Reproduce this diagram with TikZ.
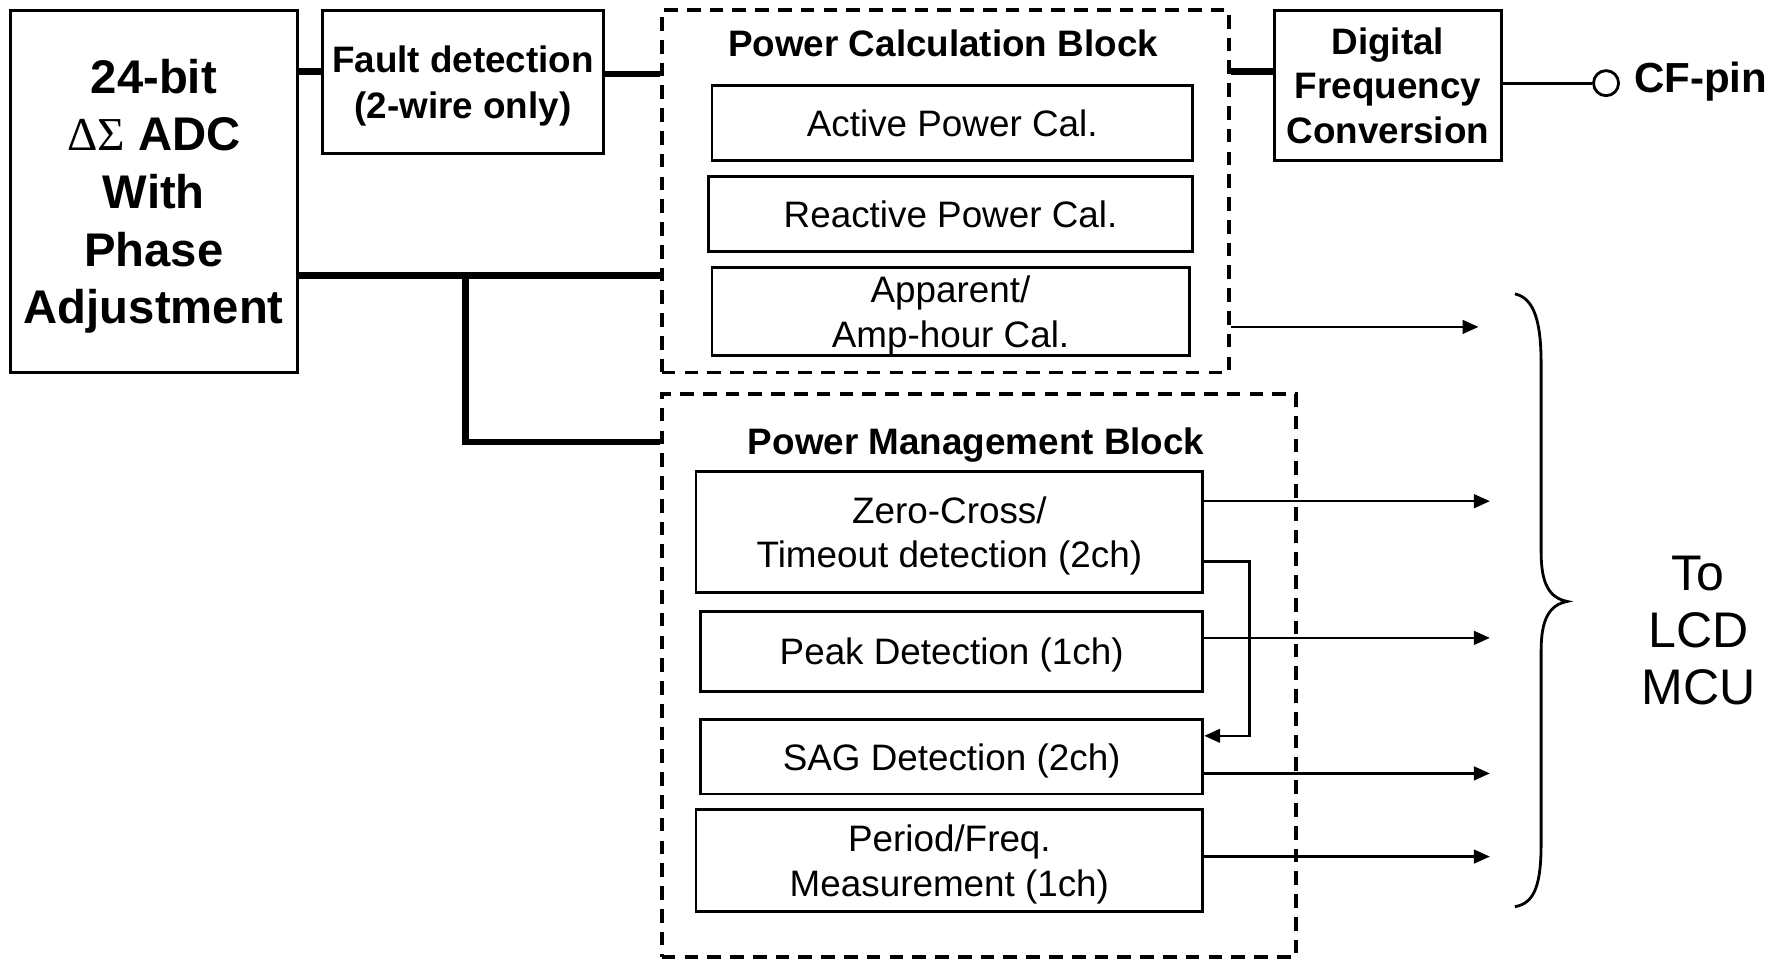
\documentclass[tikz,border=0pt]{standalone}
\usepackage{fontspec}
\setmainfont{Liberation Sans}
\newfontfamily\greekserif{Liberation Serif}
\usetikzlibrary{arrows.meta}
\tikzstyle{unit}=[draw, line width=0.7pt, inner sep=0pt, text depth=0pt, align=center, font=\fontsize{9.2}{11.1}\selectfont]
\tikzstyle{boldunit}=[unit, font=\fontsize{9.2}{11.1}\selectfont\bfseries]
\tikzstyle{blockframe}=[draw, line width=0.9pt, dash pattern=on 0.12cm off 0.08cm, inner sep=0pt]
\tikzstyle{blocktitle}=[inner sep=0pt, text depth=0pt, font=\fontsize{9.2}{11.1}\selectfont\bfseries]
\tikzstyle{bus}=[line width=1.7pt]
\tikzstyle{sig}=[line width=0.6pt, -{Triangle[length=0.14cm, width=0.12cm]}]
\newcommand{\unit}{\node[unit]}
\newcommand{\boldunit}{\node[boldunit]}

\begin{document}
\begin{tikzpicture}[x=1cm, y=-1cm]
\useasboundingbox (0,0) rectangle (15.68,8.42);

% front end
\boldunit[minimum width=2.52cm, minimum height=3.18cm, font=\fontsize{11.8}{14.4}\selectfont\bfseries] (adc) at (1.35,1.68) {24-bit\\{\greekserif\mdseries ΔΣ} ADC\\With\\Phase\\Adjustment};
\boldunit[minimum width=2.47cm, minimum height=1.26cm, font=\fontsize{9.2}{11.4}\selectfont\bfseries] (fault) at (4.065,0.72) {Fault detection\\(2-wire only)};

% power calculation
\node[blockframe, minimum width=4.98cm, minimum height=3.18cm] (pcb) at (8.30,1.68) {};
\node[blocktitle] (pcbtitle) at (8.28,0.38) {Power Calculation Block};
\unit[minimum width=4.22cm, minimum height=0.66cm] (active) at (8.36,1.08) {Active Power Cal.};
\unit[minimum width=4.25cm, minimum height=0.66cm] (reactive) at (8.345,1.88) {Reactive Power Cal.};
\unit[minimum width=4.19cm, minimum height=0.77cm] (apparent) at (8.345,2.735) {Apparent/\\Amp-hour Cal.};

\boldunit[minimum width=1.99cm, minimum height=1.32cm] (dfc) at (12.185,0.75) {Digital\\Frequency\\Conversion};
\node[circle, draw, line width=0.7pt, inner sep=0pt, minimum size=0.22cm] (cf) at (14.10,0.73) {};
\node[anchor=west, inner sep=0pt, font=\fontsize{10.5}{12}\selectfont\bfseries] (cfpin) at (14.34,0.72) {CF-pin};

% power management
\node[blockframe, minimum width=5.57cm, minimum height=4.94cm] (pmb) at (8.595,5.93) {};
\node[blocktitle] (pmbtitle) at (8.57,3.87) {Power Management Block};
\unit[minimum width=4.45cm, minimum height=1.06cm] (zc) at (8.335,4.67) {Zero-Cross/\\Timeout detection (2ch)};
\unit[minimum width=4.41cm, minimum height=0.70cm] (peak) at (8.355,5.72) {Peak Detection (1ch)};
\unit[minimum width=4.41cm, minimum height=0.65cm] (sag) at (8.355,6.645) {SAG Detection (2ch)};
\unit[minimum width=4.45cm, minimum height=0.89cm] (period) at (8.335,7.555) {Period/Freq.\\Measurement (1ch)};

\node[align=center, inner sep=0pt, font=\fontsize{12.5}{14.2}\selectfont] (lcd) at (14.91,5.535) {To\\LCD\\MCU};

% wiring
\coordinate (split) at (4.09,2.42);
\coordinate (out0) at (12.98,2.87);
\coordinate (out1) at (13.08,4.40);
\coordinate (out2) at (13.08,5.60);
\coordinate (out3) at (13.08,6.79);
\coordinate (out4) at (13.08,7.52);
\coordinate (loopa) at (10.97,4.93);
\coordinate (loopb) at (10.97,6.46);

\draw[bus] (adc.east |- 0,0.63) -- (fault.west |- 0,0.63);
\draw[bus] (fault.east |- 0,0.65) -- (pcb.west |- 0,0.65);
\draw[bus] (pcb.east |- 0,0.63) -- (dfc.west |- 0,0.63);
\draw[line width=0.7pt] (dfc.east |- cf) -- (cf);
\draw[bus] (adc.east |- split) -- (pcb.west |- split);
\draw[bus] (split) |- (pmb.west |- 0,3.88);
\draw[sig] (pcb.east |- out0) -- (out0);
\foreach \b/\o in {zc/out1, peak/out2, sag/out3, period/out4}
  \draw[sig] (\o -| \b.east) -- (\o);
\draw[sig] (zc.east |- loopa) -- (loopa) -- (loopb) -- (sag.east |- loopb);

% brace
\draw[line width=0.7pt] (13.30,2.58) .. controls (13.48,2.62) and (13.53,2.85) .. (13.53,3.20)
  -- (13.53,4.85) .. controls (13.53,5.12) and (13.60,5.25) .. (13.76,5.28)
  .. controls (13.60,5.31) and (13.53,5.44) .. (13.53,5.71)
  -- (13.53,7.40) .. controls (13.53,7.75) and (13.48,7.93) .. (13.30,7.96);
\end{tikzpicture}
\end{document}
